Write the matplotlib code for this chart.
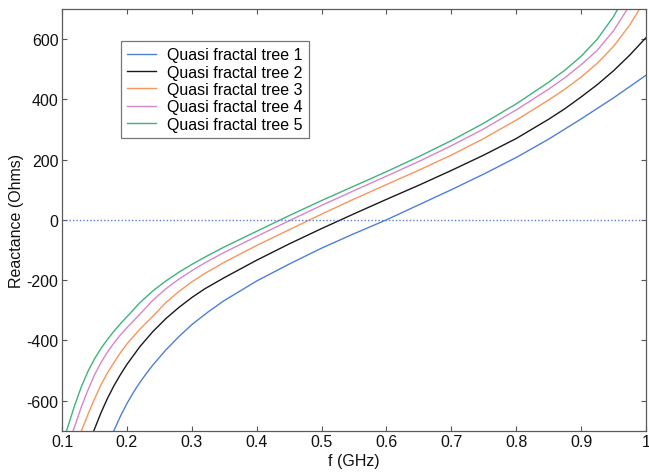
import matplotlib
matplotlib.use("Agg")
import matplotlib.pyplot as plt

plt.rcParams['font.family'] = ['Liberation Sans', 'DejaVu Sans']
plt.rcParams['axes.unicode_minus'] = False

# Reactance versus frequency for five quasi-fractal tree antennas
f_tree1 = [0.175, 0.18, 0.19, 0.20, 0.21, 0.22, 0.23, 0.24, 0.26, 0.28, 0.30, 0.325, 0.35,
           0.40, 0.45, 0.50, 0.55, 0.60, 0.65, 0.70, 0.75, 0.80, 0.85, 0.90, 0.95, 1.00]
x_tree1 = [-726, -700, -652, -610, -573, -540, -510, -482, -432, -388, -348, -306, -268,
           -203, -147, -94, -46, 0, 50, 100, 152, 207, 268, 335, 405, 480]

f_tree2 = [0.145, 0.15, 0.16, 0.17, 0.18, 0.19, 0.20, 0.22, 0.24, 0.26, 0.28, 0.30, 0.32,
           0.35, 0.40, 0.45, 0.50, 0.55, 0.60, 0.65, 0.70, 0.75, 0.80, 0.85, 0.875,
           0.90, 0.925, 0.95, 0.975, 1.00]
x_tree2 = [-722, -695, -641, -593, -551, -514, -480, -421, -371, -328, -291, -258, -229,
           -192, -134, -80, -29, 20, 68, 115, 164, 215, 270, 334, 369,
           408, 449, 495, 547, 605]

f_tree3 = [0.128, 0.13, 0.14, 0.15, 0.16, 0.17, 0.18, 0.19, 0.20, 0.22, 0.24, 0.26, 0.28,
           0.30, 0.32, 0.35, 0.40, 0.45, 0.50, 0.55, 0.60, 0.65, 0.70, 0.75, 0.80, 0.85,
           0.875, 0.90, 0.925, 0.95, 0.975, 1.00]
x_tree3 = [-715, -700, -646, -595, -548, -508, -474, -441, -412, -363, -320, -275, -238,
           -206, -178, -141, -85, -33, 19, 69, 117, 165, 215, 270, 331, 398,
           434, 474, 520, 576, 647, 735]

f_tree4 = [0.115, 0.12, 0.13, 0.14, 0.15, 0.16, 0.17, 0.18, 0.19, 0.20, 0.22, 0.24, 0.26,
           0.28, 0.30, 0.32, 0.35, 0.40, 0.45, 0.50, 0.55, 0.60, 0.65, 0.70, 0.75, 0.80,
           0.85, 0.875, 0.90, 0.925, 0.95, 0.975]
x_tree4 = [-714, -683, -620, -565, -515, -474, -439, -409, -382, -358, -313, -267, -229,
           -197, -169, -143, -108, -55, -3, 48, 97, 145, 194, 246, 302, 365,
           434, 472, 515, 563, 628, 712]

f_tree5 = [0.105, 0.107, 0.11, 0.12, 0.13, 0.14, 0.15, 0.16, 0.17, 0.18, 0.19, 0.20, 0.22,
           0.24, 0.26, 0.28, 0.30, 0.32, 0.35, 0.40, 0.45, 0.50, 0.55, 0.60, 0.65, 0.70,
           0.75, 0.80, 0.85, 0.875, 0.90, 0.925, 0.95, 0.965]
x_tree5 = [-714, -700, -680, -613, -553, -503, -462, -427, -397, -370, -345, -322, -275,
           -236, -203, -174, -148, -124, -90, -38, 14, 64, 112, 160, 210, 263,
           321, 385, 457, 497, 543, 600, 675, 732]

series = [
    (f_tree1, x_tree1, "Quasi fractal tree 1", "#4f7fd6"),
    (f_tree2, x_tree2, "Quasi fractal tree 2", "#1a1a1a"),
    (f_tree3, x_tree3, "Quasi fractal tree 3", "#f8955c"),
    (f_tree4, x_tree4, "Quasi fractal tree 4", "#d986c8"),
    (f_tree5, x_tree5, "Quasi fractal tree 5", "#3fb47a"),
]

x_ticks = [0.1, 0.2, 0.3, 0.4, 0.5, 0.6, 0.7, 0.8, 0.9, 1.0]
x_tick_labels = ["0.1", "0.2", "0.3", "0.4", "0.5", "0.6", "0.7", "0.8", "0.9", "1"]
y_ticks = [-600, -400, -200, 0, 200, 400, 600]

fig = plt.figure(figsize=(6.49, 4.77), dpi=100)
ax = fig.add_axes([62 / 649, 45.3 / 477, 584 / 649, 421.7 / 477])

for f, x, label, color in series:
    ax.plot(f, x, color=color, lw=1.0, label=label)

# zero-reactance reference line
ax.axhline(0, color="#5a7fd8", lw=1.0, ls=(0, (1, 1.5)))

ax.set_xlim(0.1, 1.0)
ax.set_ylim(-700, 700)
ax.set_xticks(x_ticks)
ax.set_xticklabels(x_tick_labels)
ax.set_yticks(y_ticks)
ax.tick_params(direction="in", top=True, right=True, length=3.5, width=0.8,
               labelsize=11.5, pad=2.5, colors="#555555", labelcolor="#111111")
for sp in ax.spines.values():
    sp.set_color("#5a5a5a")
    sp.set_linewidth(0.9)

ax.set_xlabel("f (GHz)", fontsize=11.5, labelpad=2.5, color="#111111")
ax.set_ylabel("Reactance (Ohms)", fontsize=11.5, labelpad=2, color="#111111")

leg = ax.legend(loc="upper left", bbox_to_anchor=(0.101, 0.924), borderaxespad=0,
                fontsize=11.5, frameon=True, fancybox=False, handlelength=1.8,
                handletextpad=0.7, labelspacing=0.15, borderpad=0.38)
leg.get_frame().set_edgecolor("#555555")
leg.get_frame().set_linewidth(0.9)

fig.savefig("out.png", dpi=100)
